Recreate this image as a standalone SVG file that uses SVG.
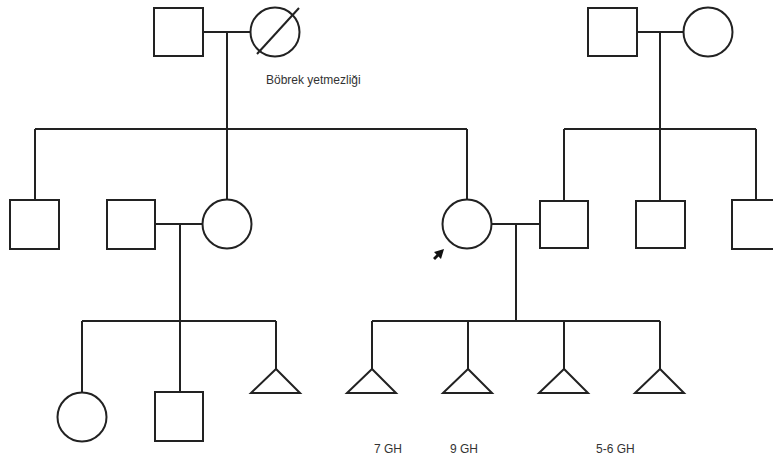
<svg xmlns="http://www.w3.org/2000/svg" width="773" height="459" viewBox="0 0 773 459">
  <style>
    .shape { fill: #ffffff; stroke: #222222; stroke-width: 2; }
    .line { fill: none; stroke: #222222; stroke-width: 2; }
    .label { font-family: "Liberation Sans", Arial, sans-serif; font-size: 12px; fill: #333333; }
  </style>
  <rect width="773" height="459" fill="#ffffff"/>

  <!-- connectors: marriage, descent and sibship lines -->
  <g id="connectors" class="line">
    <!-- left grandparents -->
    <path d="M204 32 H250"/>
    <path d="M227 32 V129"/>
    <path d="M35 129 H467"/>
    <path d="M35 129 V200"/>
    <path d="M227 129 V200"/>
    <path d="M467 129 V200"/>
    <!-- right grandparents -->
    <path d="M637 32 H684"/>
    <path d="M660 32 V129"/>
    <path d="M564 129 H756"/>
    <path d="M564 129 V201"/>
    <path d="M660 129 V201"/>
    <path d="M756 129 V200"/>
    <!-- left couple -->
    <path d="M155 224 H203"/>
    <path d="M180 224 V321"/>
    <path d="M82 321 H276"/>
    <path d="M82 321 V393"/>
    <path d="M180 321 V392"/>
    <path d="M276 321 V369"/>
    <!-- proband couple -->
    <path d="M491 224 H540"/>
    <path d="M516 224 V321"/>
    <path d="M372 321 H660"/>
    <path d="M372 321 V369"/>
    <path d="M468 321 V369"/>
    <path d="M564 321 V369"/>
    <path d="M660 321 V369"/>
  </g>

  <!-- generation I -->
  <g id="grandfather-left"><rect class="shape" x="154" y="8" width="49" height="48"/></g>
  <g id="grandmother-left">
    <circle class="shape" cx="275" cy="32" r="24.5"/>
    <path class="line" d="M257 54 L299 8"/>
  </g>
  <g id="grandfather-right"><rect class="shape" x="588" y="8" width="49" height="48"/></g>
  <g id="grandmother-right"><circle class="shape" cx="708" cy="32" r="24.5"/></g>

  <!-- generation II -->
  <g id="uncle-1"><rect class="shape" x="10" y="200" width="49" height="49"/></g>
  <g id="husband-of-aunt"><rect class="shape" x="107" y="200" width="48" height="49"/></g>
  <g id="aunt"><circle class="shape" cx="227" cy="224" r="24.5"/></g>
  <g id="proband">
    <circle class="shape" cx="467" cy="224" r="24.5"/>
    <polygon points="444,249 441,259 438.5,256.5 435,260 433,258 436.5,254.5 434,252" fill="#111111"/>
  </g>
  <g id="husband"><rect class="shape" x="540" y="201" width="48" height="47"/></g>
  <g id="brother-in-law-1"><rect class="shape" x="636" y="201" width="49" height="47"/></g>
  <g id="brother-in-law-2"><rect class="shape" x="732" y="200" width="49" height="49"/></g>

  <!-- generation III -->
  <g id="cousin-female"><circle class="shape" cx="82" cy="417" r="24.5"/></g>
  <g id="cousin-male"><rect class="shape" x="155" y="392" width="48" height="49"/></g>
  <g id="pregnancy-loss-cousin"><polygon class="shape" points="276,369 251,393 300,393"/></g>
  <g id="pregnancy-loss-1"><polygon class="shape" points="372,369 347,393 396,393"/></g>
  <g id="pregnancy-loss-2"><polygon class="shape" points="468,369 443,393 492,393"/></g>
  <g id="pregnancy-loss-3"><polygon class="shape" points="564,369 539,393 588,393"/></g>
  <g id="pregnancy-loss-4"><polygon class="shape" points="660,369 635,393 684,393"/></g>

  <!-- annotations -->
  <text class="label" x="266" y="84">Böbrek yetmezliği</text>
  <text class="label" x="374" y="453">7 GH</text>
  <text class="label" x="450" y="453">9 GH</text>
  <text class="label" x="596" y="453">5-6 GH</text>
</svg>
